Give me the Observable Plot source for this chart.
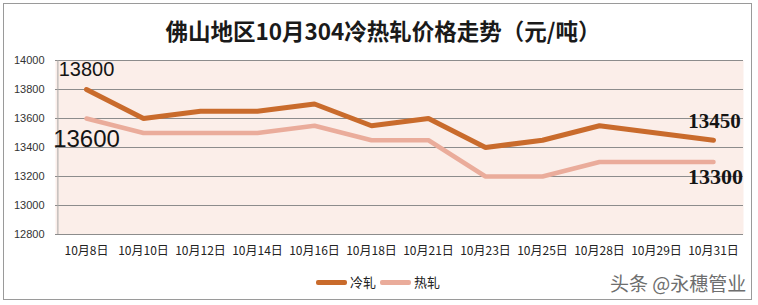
<!DOCTYPE html>
<html>
<head>
<meta charset="utf-8">
<script src="https://cdn.jsdelivr.net/npm/d3@7"></script>
<script src="https://cdn.jsdelivr.net/npm/@observablehq/plot@0.6"></script>
<style>
  html, body { margin: 0; padding: 0; background: #fff; }
  #wrap { position: relative; width: 758px; height: 305px; overflow: hidden; background: #fff; }
  #border { position: absolute; left: 3px; top: 3px; width: 749px; height: 297px; border: 1px solid #9a9a9a; box-sizing: border-box; }
  #title { position: absolute; left: 4px; top: 15px; width: 758px; text-align: center; font-family: "Noto Sans CJK SC"; font-weight: bold; font-size: 22.5px; line-height: 30px; color: #1a1a1a; }
  #chart { position: absolute; left: 0; top: 40px; }
  #legend { position: absolute; top: 272px; left: 316px; font-family: "Noto Sans CJK SC"; font-size: 13px; color: #222; display: flex; align-items: center; line-height: 20px; }
  .sw { display: inline-block; width: 31px; height: 5px; border-radius: 2px; margin-right: 3px; }
  #wm { position: absolute; top: 270px; left: 610px; font-family: "Noto Sans CJK SC"; font-size: 19px; color: #6e6e6e; line-height: 26px; letter-spacing: 0px; }
</style>
</head>
<body>
<div id="wrap">
  <div id="border"></div>
  <div id="title">佛山地区10月304冷热轧价格走势（元/吨）</div>
  <div id="chart"></div>
  <div id="legend"></div>
  <div id="wm">头条 @永穗管业</div>
</div>
<script>
const dates = ["10月8日","10月10日","10月12日","10月14日","10月16日","10月18日","10月21日","10月23日","10月25日","10月28日","10月29日","10月31日"];
const coldRolled = [13800, 13600, 13650, 13650, 13700, 13550, 13600, 13400, 13450, 13550, 13500, 13450];
const hotRolled  = [13600, 13500, 13500, 13500, 13550, 13450, 13450, 13200, 13200, 13300, 13300, 13300];
const yTicks = [12800, 13000, 13200, 13400, 13600, 13800, 14000];
const seriesNames = ["冷轧", "热轧"];
const seriesColors = ["#c96b2c", "#eaac9b"];

const coldData = dates.map((d, i) => ({date: d, value: coldRolled[i]}));
const hotData = dates.map((d, i) => ({date: d, value: hotRolled[i]}));
const last = dates.length - 1;

const chart = Plot.plot({
  width: 758,
  height: 230,
  marginTop: 20,
  marginBottom: 36,
  marginLeft: 55,
  marginRight: 15,
  style: { background: "transparent", color: "#222", fontFamily: "Liberation Sans" },
  x: { type: "point", domain: dates, padding: 0.5, label: null },
  y: { domain: [12800, 14000], label: null },
  marks: [
    Plot.frame({ fill: "#fbeee9", stroke: null }),
    Plot.gridY(yTicks, { stroke: "#8c8c8c", strokeOpacity: 1, strokeWidth: 1 }),
    Plot.ruleX([dates[0]], { stroke: "#a8a8a8", dx: -28.6 }),
    Plot.axisY(yTicks, { tickSize: 0, tickPadding: 11, fontSize: 11, fill: "#333", fontFamily: "Liberation Sans", tickFormat: d => String(d), label: null }),
    Plot.axisX({ tickSize: 0, tickPadding: 12, fontSize: 12, fill: "#222", fontFamily: "Noto Sans CJK SC", label: null }),
    Plot.line(hotData, { x: "date", y: "value", stroke: seriesColors[1], strokeWidth: 4.5, strokeLinejoin: "miter" }),
    Plot.line(coldData, { x: "date", y: "value", stroke: seriesColors[0], strokeWidth: 5, strokeLinejoin: "miter" }),
    Plot.text(coldData.slice(0, 1), { x: "date", y: "value", text: d => String(d.value), dy: -20, fontSize: 20, fill: "#141414", fontFamily: "Liberation Sans" }),
    Plot.text(hotData.slice(0, 1), { x: "date", y: "value", text: d => String(d.value), dy: 21, fontSize: 24, fill: "#141414", fontFamily: "Liberation Sans" }),
    Plot.text(coldData.slice(last), { x: "date", y: "value", text: d => String(d.value), dy: -19, dx: 1, fontSize: 21, fontWeight: "bold", fill: "#141414", fontFamily: "Liberation Serif" }),
    Plot.text(hotData.slice(last), { x: "date", y: "value", text: d => String(d.value), dy: 15, dx: 2, fontSize: 22, fontWeight: "bold", fill: "#141414", fontFamily: "Liberation Serif" })
  ]
});
document.getElementById("chart").appendChild(chart);

const legend = document.getElementById("legend");
seriesNames.forEach((name, i) => {
  const sw = document.createElement("span");
  sw.className = "sw";
  sw.style.background = seriesColors[i];
  const t = document.createElement("span");
  t.textContent = name;
  t.style.marginRight = i === 0 ? "4px" : "0";
  legend.appendChild(sw);
  legend.appendChild(t);
});
</script>
</body>
</html>
